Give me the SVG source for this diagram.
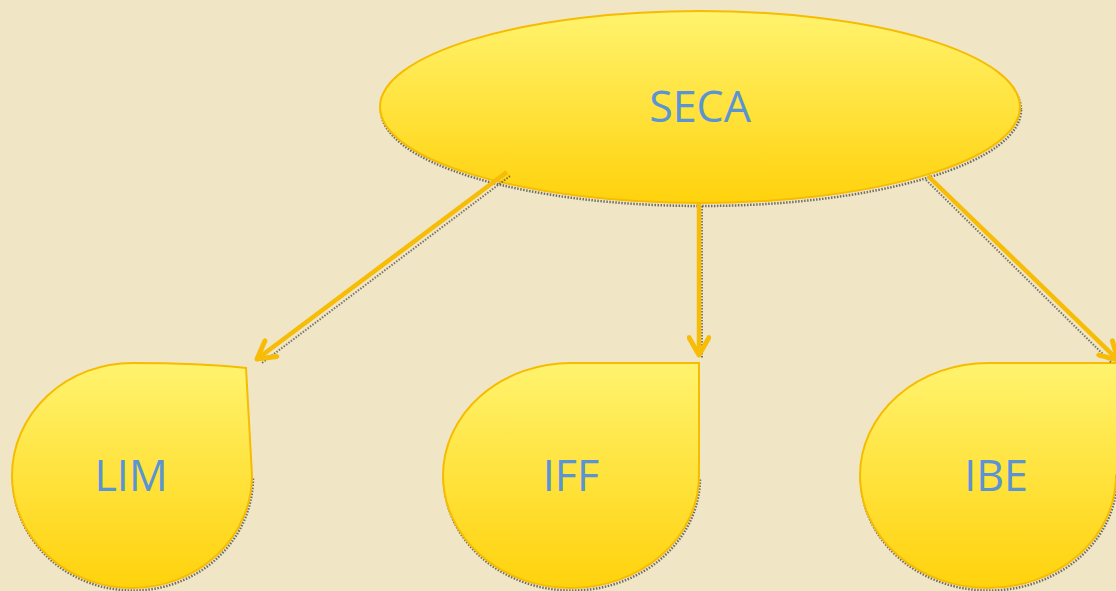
<svg xmlns="http://www.w3.org/2000/svg" width="1116" height="591" viewBox="0 0 1116 591">
<defs>
<linearGradient id="g" x1="0" y1="0" x2="0" y2="1">
<stop offset="0" stop-color="#FFF36E"/>
<stop offset="1" stop-color="#FFD20C"/>
</linearGradient>
<marker id="ah" viewBox="0 0 10 10" refX="8" refY="5" markerWidth="5.5" markerHeight="5.5" orient="auto" markerUnits="strokeWidth">
<polyline points="1,1 8,5 1,9" fill="none" stroke="#F7BC06" stroke-width="2" stroke-linecap="round" stroke-linejoin="round"/>
</marker>
</defs>
<style>
.shape{fill:url(#g);stroke:#F5BC00;stroke-width:2}
.shadow{fill:none;stroke:#444;stroke-width:2.5;stroke-dasharray:1.5 1.5;opacity:0.75}
.lbl{font-family:"Open Sans","Liberation Sans",sans-serif;font-size:43px;fill:#5B94D2;text-anchor:middle}
.conn{fill:none;stroke:#F7BC06;stroke-width:4.5;marker-end:url(#ah)}
.cshadow{fill:none;stroke:#444;stroke-width:2;stroke-dasharray:1.5 1.5;opacity:0.7}
</style>
<rect width="1116" height="591" fill="#F0E6C6"/>
<g id="seca">
<ellipse class="shadow" cx="701" cy="110" rx="320" ry="96"/>
<ellipse class="shape" cx="700" cy="107" rx="320" ry="96"/>
<text class="lbl" x="700" y="122">SECA</text>
</g>
<g id="lim">
<path class="shadow" d="M 13 478 A 120 112.5 0 0 0 253 478"/>
<path class="shape" d="M 132 363 Q 200 363 246 368 L 252 475.5 A 120 112.5 0 1 1 132 363 Z"/>
<text class="lbl" x="131" y="491">LIM</text>
</g>
<g id="iff">
<path class="shadow" d="M 444 478 A 128 112.5 0 0 0 700 478"/>
<path class="shape" d="M 571 363 L 699 363 L 699 475.5 A 128 112.5 0 1 1 571 363 Z"/>
<text class="lbl" x="571" y="491">IFF</text>
</g>
<g id="ibe">
<path class="shadow" d="M 861 478 A 128 112.5 0 0 0 1117 478"/>
<path class="shape" d="M 988 363 L 1125 363 L 1125 475.5 L 1116 475.5 A 128 112.5 0 1 1 988 363 Z"/>
<text class="lbl" x="996" y="491">IBE</text>
</g>
<g id="connectors">
<line class="cshadow" x1="510" y1="176" x2="262" y2="363"/>
<line class="cshadow" x1="702" y1="206" x2="702" y2="358"/>
<line class="cshadow" x1="926" y1="180" x2="1112" y2="363"/>
<line class="conn" x1="507" y1="172" x2="257" y2="359"/>
<line class="conn" x1="699" y1="204" x2="699" y2="355"/>
<line class="conn" x1="928" y1="176" x2="1118" y2="360"/>
</g>
</svg>
